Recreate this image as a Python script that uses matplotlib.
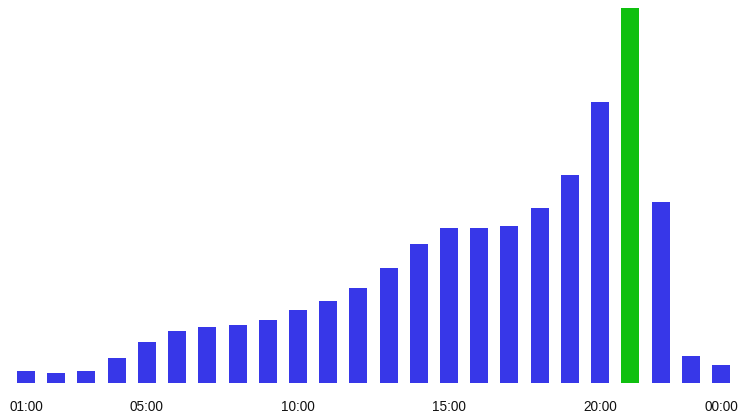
import matplotlib
matplotlib.use("Agg")
import matplotlib.pyplot as plt

hours = ["01:00", "02:00", "03:00", "04:00", "05:00", "06:00", "07:00", "08:00",
         "09:00", "10:00", "11:00", "12:00", "13:00", "14:00", "15:00", "16:00",
         "17:00", "18:00", "19:00", "20:00", "21:00", "22:00", "23:00", "00:00"]
values = [12.6, 10.3, 12.6, 25, 41.3, 52, 56, 58.6, 63.3, 73.6, 82.6, 95.6,
          115.3, 139, 155.6, 155.6, 157.6, 175.3, 208.3, 281, 375, 181, 27, 18]
highlight = "21:00"
shown_labels = ["01:00", "05:00", "10:00", "15:00", "20:00", "00:00"]

blue = "#3737E8"
green = "#0FC00F"

fig = plt.figure(figsize=(7.46, 4.19), dpi=100)
ax = fig.add_axes([0, (419 - 383.3) / 419, 1, 383.3 / 419])

x = list(range(len(hours)))
colors = [green if h == highlight else blue for h in hours]
ax.bar(x, values, width=0.596, color=colors, linewidth=0)

ax.set_xlim(-26 / 30.217, 23 + 25 / 30.217)
ax.set_ylim(0, 383.3)

ticks = [hours.index(h) for h in shown_labels]
ax.set_xticks(ticks)
ax.set_xticklabels(shown_labels, fontsize=9.8, family=["Liberation Sans", "DejaVu Sans"], color="#111111")
ax.tick_params(axis="x", length=0, pad=12)
ax.set_yticks([])
for s in ax.spines.values():
    s.set_visible(False)

fig.savefig("out.png", dpi=100)
